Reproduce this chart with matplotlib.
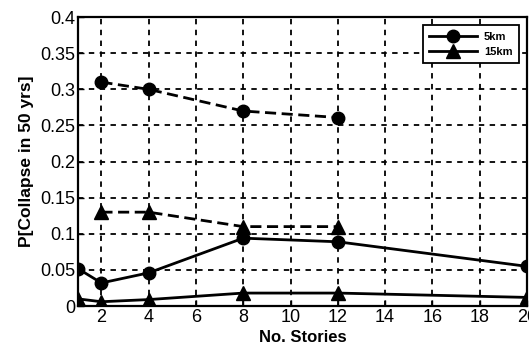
import matplotlib.pyplot as plt

plt.rcParams['font.family'] = ['Liberation Sans', 'DejaVu Sans']

# data
stories = [1, 2, 4, 8, 12, 20]
p5_solid = [0.052, 0.032, 0.046, 0.094, 0.089, 0.055]
p15_solid = [0.010, 0.006, 0.009, 0.018, 0.018, 0.012]

stories_dash = [2, 4, 8, 12]
p5_dash = [0.310, 0.300, 0.270, 0.261]
p15_dash = [0.130, 0.130, 0.110, 0.110]

xticks = [2, 4, 6, 8, 10, 12, 14, 16, 18, 20]
yticks = [0, 0.05, 0.1, 0.15, 0.2, 0.25, 0.3, 0.35, 0.4]
ytick_labels = ["0", "0.05", "0.1", "0.15", "0.2", "0.25", "0.3", "0.35", "0.4"]

fig = plt.figure(figsize=(5.29, 3.49), dpi=100)
ax = fig.add_axes([0.147, 0.123, 0.849, 0.828])

ax.plot(stories, p5_solid, "k-", marker="o", markersize=9, lw=2, label="5km")
ax.plot(stories, p15_solid, "k-", marker="^", markersize=10, lw=2, label="15km")
ax.plot(stories_dash, p5_dash, color="k", ls=(0, (4, 2)), marker="o", markersize=9, lw=2)
ax.plot(stories_dash, p15_dash, color="k", ls=(0, (4, 2)), marker="^", markersize=10, lw=2)

ax.set_xlim(1, 20)
ax.set_ylim(0, 0.4)
ax.set_xticks(xticks)
ax.set_yticks(yticks)
ax.set_yticklabels(ytick_labels)
ax.tick_params(direction="in", labelsize=13, length=4, width=1, pad=2)
ax.grid(True, color="black", linestyle=(0, (3, 3)), linewidth=1.3)
for s in ax.spines.values():
    s.set_linewidth(1.6)

ax.set_xlabel("No. Stories", fontsize=12, fontweight="bold", labelpad=3)
ax.set_ylabel("P[Collapse in 50 yrs]", fontsize=12.5, fontweight="bold")

leg = ax.legend(loc="upper right", prop={"size": 8, "weight": "bold"}, fancybox=False,
                framealpha=1, edgecolor="black", handlelength=4.3, borderpad=0.6,
                borderaxespad=0.7, labelspacing=0.45, handletextpad=0.6)
leg.get_frame().set_linewidth(1.3)

plt.savefig("out.png", dpi=100)
